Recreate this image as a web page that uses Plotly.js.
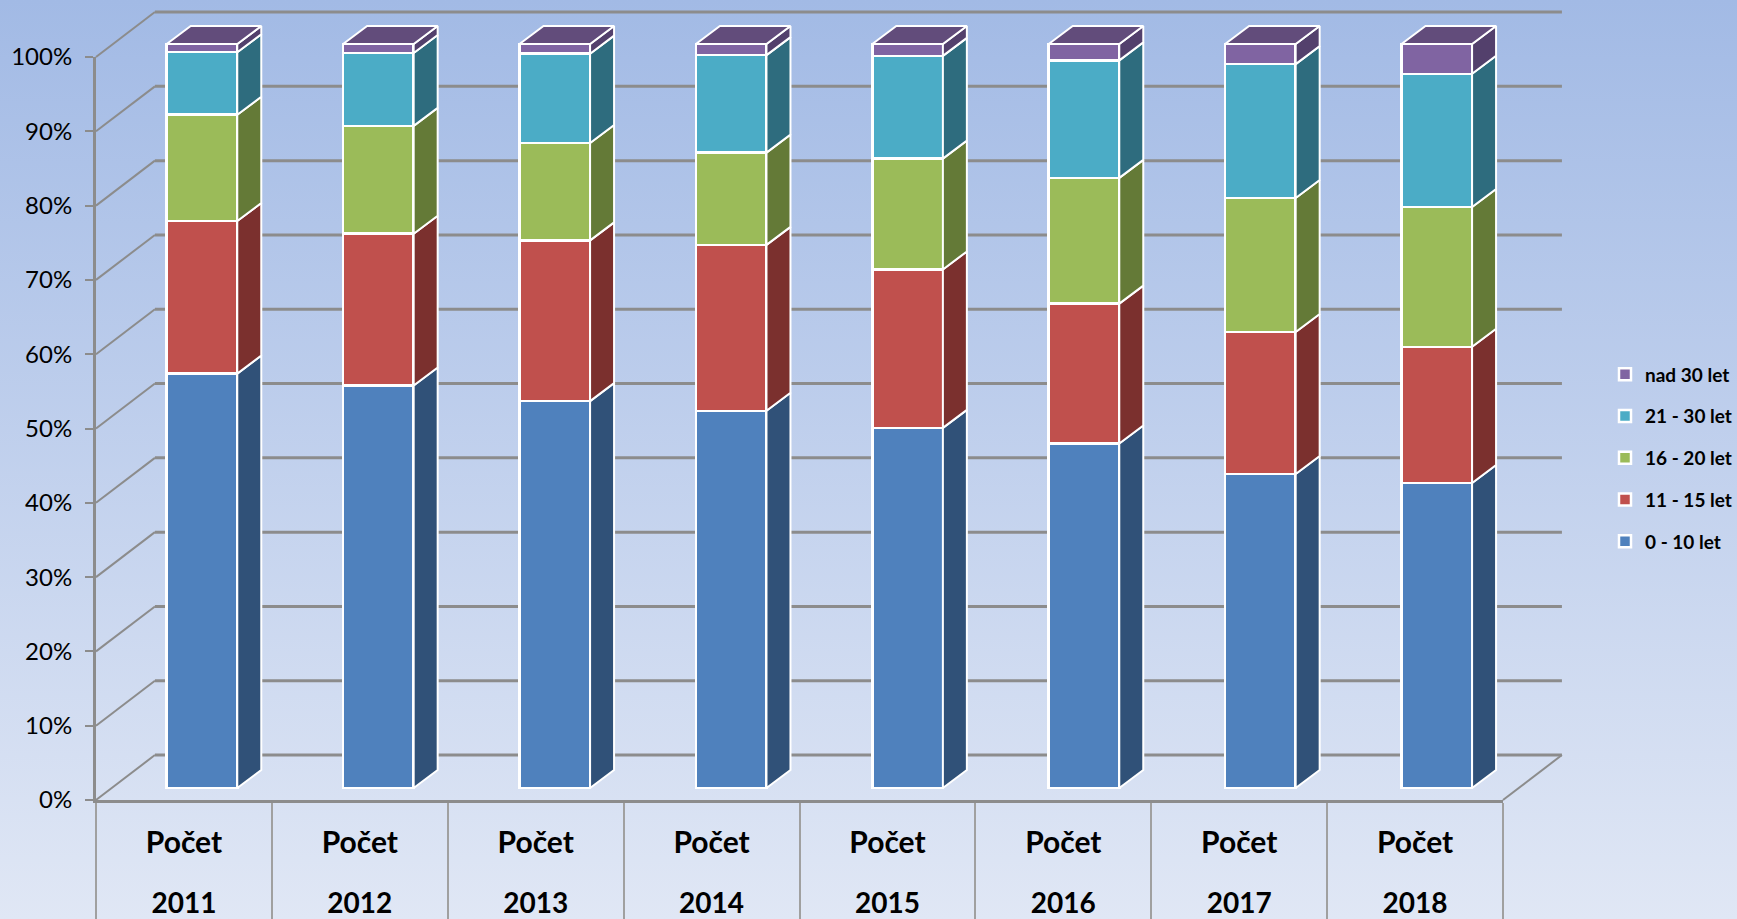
<!DOCTYPE html>
<html>
<head>
<meta charset="utf-8">
<script src="https://cdn.plot.ly/plotly-3.0.1.min.js"></script>
<style>
html,body{margin:0;padding:0;width:1737px;height:919px;overflow:hidden;background:linear-gradient(180deg,#A2BAE5 0%,#E0E7F5 100%);}
#chart{width:1737px;height:919px;}
</style>
</head>
<body>
<div id="chart"></div>
<script>
var years = [2011, 2012, 2013, 2014, 2015, 2016, 2017, 2018];
var measureLabel = 'Počet';
var seriesNames = ['0 - 10 let', '11 - 15 let', '16 - 20 let', '21 - 30 let', 'nad 30 let'];
var s0to10 = [55.7, 54.1, 52.0, 50.7, 48.4, 46.3, 42.2, 41.0];
var s11to15 = [20.5, 20.4, 21.6, 22.3, 21.3, 18.8, 19.1, 18.3];
var s16to20 = [14.3, 14.5, 13.1, 12.4, 14.9, 16.9, 18.0, 18.8];
var s21to30 = [8.4, 9.8, 12.0, 13.1, 13.8, 15.8, 18.0, 17.9];
var sOver30 = [1.1, 1.2, 1.3, 1.5, 1.6, 2.2, 2.7, 4.0];
var seriesValues = [s0to10, s11to15, s16to20, s21to30, sOver30];
var frontColors = ['#4F81BD', '#C0504D', '#9BBB59', '#4BACC6', '#8064A2'];
var sideColors = ['#305178', '#7B302E', '#647A37', '#2E6C7E', '#53406C'];
var topColor = '#624C7B';

var W = 1737, H = 919;
function dx(a, b) { return [a / W, b / W]; }
function dy(bottom, top) { return [1 - bottom / H, 1 - top / H]; }

var xRange = [years[0] - 0.5, years[years.length - 1] + 0.5];
var gridColor = '#8C8C8C';
var barWidth = 0.4;
var sideDX = 0.136, sideDY = 2.42;   // bar side-face depth in axis units
var wallDX = 0.335, wallDY = 6.05;   // wall depth in axis units
var font = 'Lato, Carlito, Calibri, sans-serif';

// Extended drawing subplots, so the depth offset is not clipped. pad = few px of slack.
var frontX = [96, 1503], frontY = [800, 57];
var barX = [113.8, 1525], barY = [788, 44];
var pad = 8;
var unitsFront = {x: (xRange[1] - xRange[0]) / (frontX[1] - frontX[0]), y: 100 / (frontY[0] - frontY[1])};
var unitsBar = {x: (xRange[1] - xRange[0]) / (barX[1] - barX[0]), y: 100 / (barY[0] - barY[1])};

var wallXRange = [xRange[0] - pad * unitsFront.x, xRange[1] + wallDX + pad * unitsFront.x];
var wallYRange = [-pad * unitsFront.y, 100 + wallDY + pad * unitsFront.y];
var wallXDom = dx(frontX[0] - pad, frontX[1] + wallDX / unitsFront.x + pad);
var wallYDom = dy(frontY[0] + pad, frontY[1] - wallDY / unitsFront.y - pad);

var barXRange = [xRange[0] - pad * unitsBar.x, xRange[1] + sideDX + pad * unitsBar.x];
var barYRange = [-pad * unitsBar.y, 100 + sideDY + pad * unitsBar.y];
var barXDom = dx(barX[0] - pad, barX[1] + sideDX / unitsBar.x + pad);
var barYDom = dy(barY[0] + pad, barY[1] - sideDY / unitsBar.y - pad);

var traces = [];

// walls: back-wall gridlines and left-wall diagonals
var gx = [], gy = [], dgx = [], dgy = [];
for (var v = 0; v <= 100; v += 10) {
  gx.push(xRange[0] + wallDX, xRange[1] + wallDX, null);
  gy.push(v + wallDY, v + wallDY, null);
  dgx.push(xRange[0], xRange[0] + wallDX, null);
  dgy.push(v, v + wallDY, null);
}
dgx.push(xRange[1], xRange[1] + wallDX, null);
dgy.push(0, wallDY, null);
traces.push({type:'scatter', mode:'lines', x:gx, y:gy, xaxis:'x', yaxis:'y',
  line:{color:gridColor, width:3}, showlegend:false, hoverinfo:'skip'});
traces.push({type:'scatter', mode:'lines', x:dgx, y:dgy, xaxis:'x', yaxis:'y',
  line:{color:gridColor, width:2}, showlegend:false, hoverinfo:'skip'});

// anchor for the front axes (axis lines, ticks, % labels)
traces.push({type:'scatter', mode:'markers', x:years, y:years.map(function () { return 0; }),
  xaxis:'x2', yaxis:'y2', marker:{opacity:0}, showlegend:false, hoverinfo:'skip'});

// side faces and top, built from the stacked values
var cum = years.map(function () { return 0; });
seriesValues.forEach(function (vals, s) {
  var px = [], py = [];
  years.forEach(function (yr, i) {
    var x0 = yr + barWidth / 2, y0 = cum[i], y1 = cum[i] + vals[i];
    px.push(x0, x0 + sideDX, x0 + sideDX, x0, x0, null);
    py.push(y0, y0 + sideDY, y1 + sideDY, y1, y0, null);
    cum[i] = y1;
  });
  traces.push({type:'scatter', mode:'lines', x:px, y:py, xaxis:'x3', yaxis:'y3', fill:'toself',
    fillcolor:sideColors[s], line:{color:'#FFFFFF', width:2},
    showlegend:false, hoverinfo:'skip'});
});
var tx = [], ty = [];
years.forEach(function (yr, i) {
  var l = yr - barWidth / 2, r = yr + barWidth / 2, t = cum[i];
  tx.push(l, l + sideDX, r + sideDX, r, l, null);
  ty.push(t, t + sideDY, t + sideDY, t, t, null);
});
traces.push({type:'scatter', mode:'lines', x:tx, y:ty, xaxis:'x3', yaxis:'y3', fill:'toself',
  fillcolor:topColor, line:{color:'#FFFFFF', width:2},
  showlegend:false, hoverinfo:'skip'});

// front faces
seriesValues.forEach(function (vals, s) {
  traces.push({type:'bar', name:seriesNames[s], x:years, y:vals, width:barWidth, xaxis:'x3', yaxis:'y3',
    legendgroup:seriesNames[s], legendrank:seriesNames.length - s,
    marker:{color:frontColors[s], line:{color:'#FFFFFF', width:2.5}}});
});

// anchors for the two rows of category labels
['4', '5'].forEach(function (n) {
  traces.push({type:'scatter', mode:'markers', x:years, y:years.map(function () { return 0; }),
    xaxis:'x' + n, yaxis:'y' + n, marker:{opacity:0}, showlegend:false, hoverinfo:'skip'});
});

var hiddenY = function (dom) { return {domain:dom, range:[0, 1], visible:false}; };

var layout = {
  width:W, height:H, margin:{l:0, r:0, t:0, b:0},
  paper_bgcolor:'rgba(0,0,0,0)', plot_bgcolor:'rgba(0,0,0,0)',
  barmode:'stack', font:{family:font, color:'#000000'},
  xaxis:{domain:wallXDom, range:wallXRange, anchor:'y', visible:false},
  yaxis:{domain:wallYDom, range:wallYRange, anchor:'x', visible:false},
  xaxis2:{domain:dx(frontX[0], frontX[1]), range:xRange, anchor:'y2', tickmode:'linear', tick0:xRange[0], dtick:1,
    ticks:'outside', ticklen:119, tickwidth:1.5, tickcolor:'#A0A0A0', showticklabels:false,
    showgrid:false, zeroline:false, showline:true, linecolor:gridColor, linewidth:3},
  yaxis2:{domain:dy(frontY[0], frontY[1]), range:[0, 100], anchor:'x2', tickmode:'linear', tick0:0, dtick:10,
    ticksuffix:'%', ticks:'outside', ticklen:8, tickwidth:2, tickcolor:gridColor,
    tickfont:{family:font, size:24, color:'#000000'}, ticklabelstandoff:8,
    showgrid:false, zeroline:false, showline:true, linecolor:gridColor, linewidth:3},
  xaxis3:{domain:barXDom, range:barXRange, anchor:'y3', visible:false},
  yaxis3:{domain:barYDom, range:barYRange, anchor:'x3', visible:false},
  xaxis4:{domain:dx(frontX[0], frontX[1]), range:xRange, anchor:'y4', tickmode:'array', tickvals:years,
    ticktext:years.map(function () { return measureLabel; }), ticks:'', showgrid:false, zeroline:false,
    showline:false, tickfont:{family:font, size:30, color:'#000000', weight:700}},
  yaxis4:hiddenY(dy(822, 821)),
  xaxis5:{domain:dx(frontX[0], frontX[1]), range:xRange, anchor:'y5', tickmode:'array', tickvals:years,
    ticktext:years.map(String), ticks:'', showgrid:false, zeroline:false,
    showline:false, tickfont:{family:font, size:28, color:'#000000', weight:700}},
  yaxis5:hiddenY(dy(884, 883)),
  legend:{x:1, xanchor:'right', y:1 - 458 / H, yanchor:'middle', bgcolor:'rgba(0,0,0,0)',
    traceorder:'grouped', tracegroupgap:14, itemclick:false, itemdoubleclick:false,
    font:{family:font, size:19, color:'#000000', weight:700}},
  showlegend:true
};

Plotly.newPlot('chart', traces, layout, {displayModeBar:false});
</script>
</body>
</html>
